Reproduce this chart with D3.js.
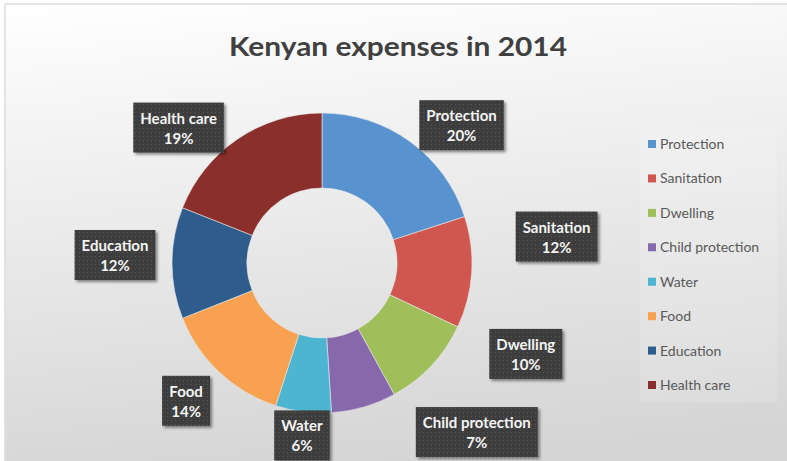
<!DOCTYPE html>
<html>
<head>
<meta charset="utf-8">
<script src="https://cdn.jsdelivr.net/npm/d3@7"></script>
<style>
  html, body { margin: 0; padding: 0; background: #ffffff; }
  svg { display: block; }
</style>
</head>
<body>
<svg id="chart" width="787" height="461"></svg>
<script>
// Expense categories and their shares (%)
const categories = ["Protection", "Sanitation", "Dwelling", "Child protection", "Water", "Food", "Education", "Health care"];
const shares = [20, 12, 10, 7, 6, 14, 12, 19];
const colors = ["#5892cf", "#d0574f", "#a0bf5a", "#8668ab", "#4db5d0", "#f8a251", "#2e5c8c", "#8b2f2c"];
// Label nudges (px) away from the default radial position, to keep boxes clear of each other
const labelNudge = [[22, 24], [35, -39], [58, -46], [99, -23], [5, -26], [1, -8], [-7, -8], [-31, 30]];
const titleText = "Kenyan expenses in 2014";

const W = 787, H = 461;
const svg = d3.select("#chart");
const defs = svg.append("defs");

// Background: soft white-to-grey wash
const bg = defs.append("linearGradient").attr("id", "bgGrad")
  .attr("x1", 0).attr("y1", 0).attr("x2", 0.15).attr("y2", 1);
bg.append("stop").attr("offset", "0%").attr("stop-color", "#ffffff");
bg.append("stop").attr("offset", "25%").attr("stop-color", "#f4f4f4");
bg.append("stop").attr("offset", "100%").attr("stop-color", "#d5d5d5");

// Dotted texture for the label boxes
const pat = defs.append("pattern").attr("id", "dots")
  .attr("width", 4).attr("height", 4).attr("patternUnits", "userSpaceOnUse");
pat.append("rect").attr("width", 4).attr("height", 4).attr("fill", "#3e3e3e");
pat.append("rect").attr("x", 1).attr("y", 1).attr("width", 1).attr("height", 1).attr("fill", "#585858");

const shadow = defs.append("filter").attr("id", "boxShadow")
  .attr("x", "-20%").attr("y", "-20%").attr("width", "150%").attr("height", "160%");
shadow.append("feDropShadow").attr("dx", 2).attr("dy", 2).attr("stdDeviation", 1.6)
  .attr("flood-color", "#000").attr("flood-opacity", 0.45);

svg.append("rect").attr("width", W).attr("height", H).attr("fill", "#ffffff");
svg.append("rect").attr("x", 5).attr("y", 4).attr("width", W + 20).attr("height", H + 20)
  .attr("fill", "url(#bgGrad)").attr("stroke", "#dcdcdc").attr("stroke-width", 1.5);

// Title
const title = svg.append("text")
  .attr("x", 398).attr("y", 56)
  .attr("text-anchor", "middle")
  .attr("font-family", "Lato, 'Open Sans', sans-serif")
  .attr("font-weight", 700)
  .attr("font-size", 27)
  .attr("fill", "#404040")
  .text(titleText);
title.attr("textLength", 338).attr("lengthAdjust", "spacingAndGlyphs");

// Donut
const cx = 322, cy = 263, outerR = 150, innerR = 75;
const data = categories.map((c, i) => ({ name: c, value: shares[i], color: colors[i], nudge: labelNudge[i] }));
const pie = d3.pie().value(d => d.value).sort(null);
const arc = d3.arc().innerRadius(innerR).outerRadius(outerR);
const arcs = pie(data);

const g = svg.append("g").attr("transform", `translate(${cx},${cy})`);
g.selectAll("path.slice")
  .data(arcs)
  .join("path")
  .attr("class", "slice")
  .attr("d", arc)
  .attr("fill", d => d.data.color)
  .attr("stroke", "#e8e8e8")
  .attr("stroke-width", 0.6);

// Data labels: dark textured boxes with name and percentage
const fmtPct = d3.format(".0%");
const total = d3.sum(shares);
const labelR = 200;
const labels = g.selectAll("g.lbl")
  .data(arcs)
  .join("g")
  .attr("class", "lbl");

labels.each(function (d) {
  const sel = d3.select(this);
  const mid = (d.startAngle + d.endAngle) / 2;
  const x = labelR * Math.sin(mid) + d.data.nudge[0];
  const y = -labelR * Math.cos(mid) + d.data.nudge[1];
  const box = sel.append("rect").attr("filter", "url(#boxShadow)").attr("fill", "url(#dots)");
  const t1 = sel.append("text")
    .attr("x", x).attr("y", y - 4)
    .attr("text-anchor", "middle")
    .attr("font-family", "Lato, 'Open Sans', sans-serif")
    .attr("font-weight", 700).attr("font-size", 15)
    .attr("fill", "#f4f4f4")
    .text(d.data.name);
  sel.append("text")
    .attr("x", x).attr("y", y + 16)
    .attr("text-anchor", "middle")
    .attr("font-family", "Lato, 'Open Sans', sans-serif")
    .attr("font-weight", 700).attr("font-size", 15)
    .attr("fill", "#f4f4f4")
    .text(fmtPct(d.data.value / total));
  const tw = t1.node().getComputedTextLength();
  const bw = Math.max(tw + 14, 48), bh = 50;
  box.attr("x", x - bw / 2).attr("y", y - bh / 2).attr("width", bw).attr("height", bh);
});

// Legend
const legX = 640, legY = 127;
svg.append("rect").attr("x", legX).attr("y", legY).attr("width", 137).attr("height", 275)
  .attr("fill", "#ffffff").attr("fill-opacity", 0.15);
const legend = svg.append("g").attr("transform", `translate(${legX},${legY})`);
const ly = d3.scalePoint().domain(categories).range([18, 259]);
const items = legend.selectAll("g.item").data(data).join("g")
  .attr("class", "item")
  .attr("transform", d => `translate(0,${ly(d.name)})`);
items.append("rect").attr("x", 8).attr("y", -5).attr("width", 8).attr("height", 8)
  .attr("fill", d => d.color);
items.append("text").attr("x", 20).attr("y", 4)
  .attr("font-family", "Lato, 'Open Sans', sans-serif")
  .attr("font-size", 14)
  .attr("fill", "#595959")
  .text(d => d.name);
</script>
</body>
</html>
